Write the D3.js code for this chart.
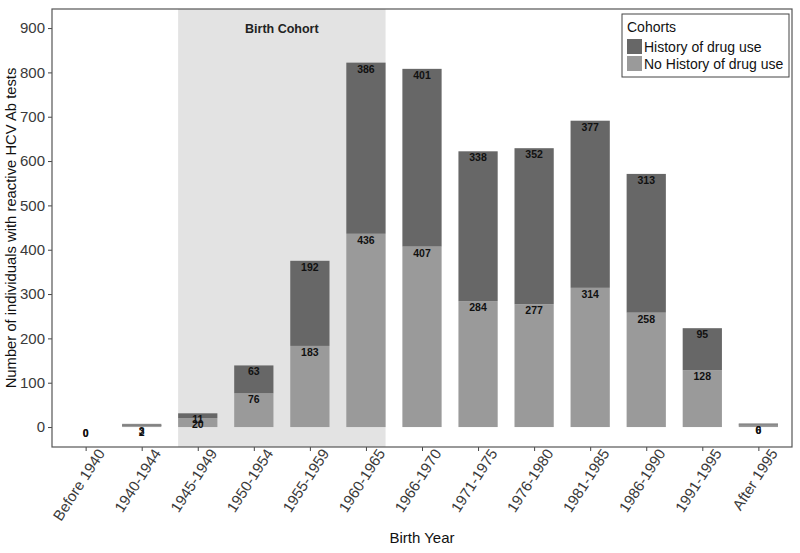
<!DOCTYPE html>
<html>
<head>
<meta charset="utf-8">
<script src="https://cdn.jsdelivr.net/npm/d3@7"></script>
<style>
  body { margin: 0; background: #fff; font-family: Arial, "Liberation Sans", sans-serif; }
</style>
</head>
<body>
<div id="chart"></div>
<script>
  const categories = ['Before 1940', '1940-1944', '1945-1949', '1950-1954', '1955-1959', '1960-1965',
                      '1966-1970', '1971-1975', '1976-1980', '1981-1985', '1986-1990', '1991-1995', 'After 1995'];
  const noHistory = [0, 2, 20, 76, 183, 436, 407, 284, 277, 314, 258, 128, 6];
  const history   = [0, 3, 11, 63, 192, 386, 401, 338, 352, 377, 313, 95, 0];
  const yTicks = [0, 100, 200, 300, 400, 500, 600, 700, 800, 900];
  const cohortRange = ['1945-1949', '1960-1965'];

  const W = 800, H = 553;
  const margin = {top: 9, right: 8, bottom: 106, left: 52};
  const width = W - margin.left - margin.right,
        height = H - margin.top - margin.bottom;

  const darkGrey = '#676767', lightGrey = '#9a9a9a';
  const FONT = 'Arial, "Liberation Sans", sans-serif';

  const svg = d3.select('#chart').append('svg')
    .attr('width', W).attr('height', H)
    .style('font-family', FONT);
  const g = svg.append('g').attr('transform', `translate(${margin.left},${margin.top})`);

  const x = d3.scalePoint().domain(categories).range([0, width]).padding(0.6);
  const step = x.step();
  const bw = step * 0.7;
  const y = d3.scaleLinear().domain([-45, 943]).range([height, 0]);

  // birth cohort shading
  g.append('rect')
    .attr('x', x(cohortRange[0]) - bw / 2)
    .attr('width', x(cohortRange[1]) - x(cohortRange[0]) + bw)
    .attr('y', 0).attr('height', height)
    .attr('fill', '#e3e3e3');

  g.append('text')
    .attr('x', (x(cohortRange[0]) + x(cohortRange[1])) / 2)
    .attr('y', 24)
    .attr('text-anchor', 'middle')
    .style('font-size', '12.5px').style('font-weight', 'bold').attr('fill', '#222')
    .text('Birth Cohort');

  const rows = categories.map((c, i) => ({cat: c, noHist: noHistory[i], hist: history[i]}));

  // bottom: no history
  g.selectAll('.nh').data(rows).enter().append('rect')
    .attr('class', 'nh')
    .attr('x', d => x(d.cat) - bw / 2).attr('width', bw)
    .attr('y', d => y(d.noHist)).attr('height', d => y(0) - y(d.noHist))
    .attr('fill', lightGrey);

  g.selectAll('.h').data(rows).enter().append('rect')
    .attr('class', 'h')
    .attr('x', d => x(d.cat) - bw / 2).attr('width', bw)
    .attr('y', d => y(d.noHist + d.hist)).attr('height', d => y(d.noHist) - y(d.noHist + d.hist))
    .attr('fill', darkGrey);

  // thin lines for tiny totals
  g.selectAll('.tiny').data(rows.filter(d => d.noHist + d.hist > 0 && d.noHist + d.hist < 8)).enter().append('rect')
    .attr('x', d => x(d.cat) - bw / 2).attr('width', bw)
    .attr('y', d => y(d.noHist + d.hist) - 1).attr('height', 2)
    .attr('fill', '#888');

  const lab = g.append('g').style('font-size', '10.5px').style('font-weight', 'bold')
    .attr('text-anchor', 'middle').attr('fill', '#111');
  lab.selectAll('.lh').data(rows).enter().append('text')
    .attr('x', d => x(d.cat)).attr('y', d => y(d.noHist + d.hist) + 10)
    .text(d => d.hist);
  lab.selectAll('.lnh').data(rows).enter().append('text')
    .attr('x', d => x(d.cat)).attr('y', d => y(d.noHist) + 10)
    .text(d => d.noHist);

  // axes
  const yAxis = g.append('g')
    .call(d3.axisLeft(y).tickValues(yTicks).tickSize(4).tickPadding(3));
  yAxis.select('.domain').remove();
  yAxis.selectAll('text').style('font-size', '15px').attr('fill', '#3a3a3a')
    .style('font-family', FONT);
  yAxis.selectAll('line').attr('stroke', '#444');

  const xAxis = g.append('g').attr('transform', `translate(0,${height})`)
    .call(d3.axisBottom(x).tickSize(4).tickPadding(3));
  xAxis.select('.domain').remove();
  xAxis.selectAll('line').attr('stroke', '#444');
  xAxis.selectAll('text')
    .style('font-size', '15px').attr('fill', '#3a3a3a')
    .style('font-family', FONT)
    .attr('text-anchor', 'end')
    .attr('dx', '0.35em').attr('dy', '0.85em')
    .attr('transform', 'rotate(-57)');

  // panel border
  g.append('rect').attr('width', width).attr('height', height)
    .attr('fill', 'none').attr('stroke', '#555').attr('stroke-width', 1.2);

  svg.append('text')
    .attr('transform', `translate(16,${margin.top + height / 2}) rotate(-90)`)
    .attr('text-anchor', 'middle').style('font-size', '14.8px').attr('fill', '#111')
    .text('Number of individuals with reactive HCV Ab tests');

  svg.append('text')
    .attr('x', margin.left + width / 2).attr('y', 543)
    .attr('text-anchor', 'middle').style('font-size', '15px').attr('fill', '#111')
    .text('Birth Year');

  // legend
  const leg = svg.append('g').attr('transform', 'translate(622,14)');
  leg.append('rect').attr('width', 167).attr('height', 63)
    .attr('fill', '#fff').attr('stroke', '#444').attr('stroke-width', 1);
  leg.append('text').attr('x', 5).attr('y', 18).style('font-size', '14px').attr('fill', '#111').text('Cohorts');
  const items = [['History of drug use', darkGrey], ['No History of drug use', lightGrey]];
  items.forEach((it, i) => {
    leg.append('rect').attr('x', 5).attr('y', 25 + i * 17).attr('width', 15).attr('height', 15).attr('fill', it[1]);
    leg.append('text').attr('x', 22).attr('y', 38 + i * 17).style('font-size', '14px').attr('fill', '#111').text(it[0]);
  });
</script>
</body>
</html>
